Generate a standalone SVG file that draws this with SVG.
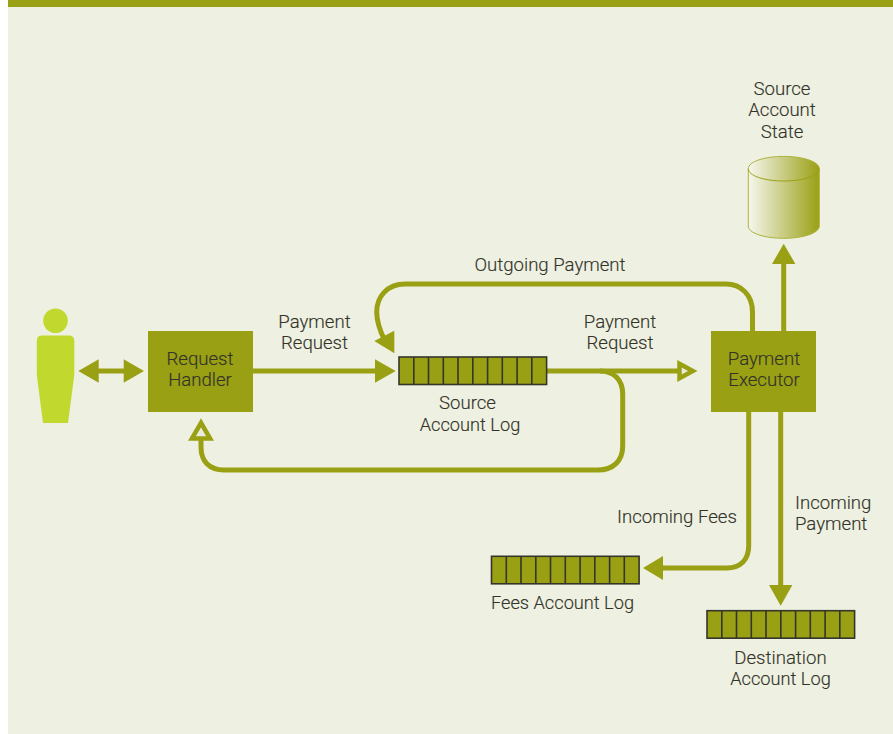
<svg xmlns="http://www.w3.org/2000/svg" width="893" height="734" viewBox="0 0 893 734">
<style>
text{font-family:"Roboto","Liberation Sans",sans-serif;font-size:18.6px;fill:#33332a;font-weight:300;stroke:#33332a;stroke-width:.15}
.m{text-anchor:middle}
.s{font-size:18.2px}
.box{fill:#9aa014}
.line{fill:none;stroke:#9aa014;stroke-width:5}
.head{fill:#9aa014}
.hollow{fill:#e9ebdc;stroke:#9aa014;stroke-width:4.5}
.cell{fill:#9aa014;stroke:#35352a;stroke-width:1.6}
.div{fill:none;stroke:#35352a;stroke-width:1.6}
</style>
<defs>
<linearGradient id="cyl" x1="0" y1="0" x2="1" y2="0"><stop offset="0" stop-color="#f6f7ee"/><stop offset="1" stop-color="#9aa014"/></linearGradient>
<g id="cells"><rect class="cell" x="0" y="0" width="147.6" height="27.5"/><path class="div" d="M14.8 0v27.5M29.5 0v27.5M44.3 0v27.5M59 0v27.5M73.8 0v27.5M88.6 0v27.5M103.3 0v27.5M118.1 0v27.5M132.8 0v27.5"/></g>
</defs>
<rect x="0" y="0" width="893" height="734" fill="#ffffff"/>
<rect x="8" y="0" width="885" height="734" fill="#eef1e1"/>
<rect x="8" y="0" width="885" height="7" fill="#9aa014"/>
<g id="connectors">
<path class="line" d="M95 371H127"/>
<path class="head" d="M78.3 371L98.7 359.3V382.7ZM144 371L123.7 359.3V382.7Z"/>
<path class="line" d="M253 371H377"/>
<path class="head" d="M395.7 371L375 359.3V382.7Z"/>
<path class="line" d="M752.5 331V312C752.5 295 741 284 726 284H405C387 284 376.7 297 376.7 312C376.7 322 380 331 385 341"/>
<path class="head" d="M394.3 353.3L374.3 341L394.3 330.7Z"/>
<path class="line" d="M547 371H680"/>
<path class="hollow" d="M692.800 371L679.500 363.700V378.300Z"/>
<path class="line" d="M600 371C614 371 622.7 380 622.7 394V446C622.7 461 613 470 598 470H224C209 470 201 461 201 447V440"/>
<path class="hollow" d="M201 422.800L191.900 438.500H210.100Z"/>
<path class="line" d="M783.7 331V262"/>
<path class="head" d="M783.7 243.7L772 264H795.4Z"/>
<path class="line" d="M748.7 412V546C748.7 560 740 568 727 568H661"/>
<path class="head" d="M643 568L663 556V580Z"/>
<path class="line" d="M780.7 412V587"/>
<path class="head" d="M780.7 605.7L769 585H792.4Z"/>
</g>
<g id="user">
<circle cx="55.5" cy="320.8" r="12.3" fill="#c1d82f"/>
<path d="M42 335.5H69Q74.3 335.5 74.3 341V375L68 423H43L36.8 375V341Q36.8 335.5 42 335.5Z" fill="#c1d82f"/>
</g>
<g id="request-handler">
<rect class="box" x="148" y="331" width="105" height="81"/>
<text class="m" x="200" y="365">Request</text>
<text class="m" x="200" y="386">Handler</text>
</g>
<g id="source-log">
<use href="#cells" x="399" y="357"/>
<text class="m" x="467.500" y="409">Source</text>
<text class="m s" x="470" y="431">Account Log</text>
</g>
<g id="payment-executor">
<rect class="box" x="711" y="331" width="105" height="81"/>
<text class="m" x="764" y="365">Payment</text>
<text class="m" x="764" y="386">Executor</text>
</g>
<g id="source-state">
<path d="M748.300 168.700V226C748.300 233 764 238.300 783.800 238.300S819.300 233 819.300 226V168.700C819.300 161.700 803.500 156.400 783.800 156.400S748.300 161.700 748.300 168.700Z" fill="url(#cyl)" stroke="#aab23a" stroke-width="1"/>
<path d="M748.300 168.700C748.300 175.700 764 181 783.800 181S819.300 175.700 819.300 168.700" fill="none" stroke="#9aa014" stroke-width="1"/>
<text class="m" x="782" y="95">Source</text>
<text class="m" x="782" y="116">Account</text>
<text class="m" x="782" y="138">State</text>
</g>
<g id="fees-log">
<use href="#cells" x="491.500" y="556.300"/>
<text class="s" x="491" y="609">Fees Account Log</text>
</g>
<g id="destination-log">
<use href="#cells" x="707" y="610.700"/>
<text class="m" x="780.500" y="664">Destination</text>
<text class="m s" x="780.500" y="685">Account Log</text>
</g>
<g id="labels">
<text class="m" x="314.500" y="328">Payment</text>
<text class="m" x="314.500" y="349">Request</text>
<text class="m" x="620" y="328">Payment</text>
<text class="m" x="620" y="349">Request</text>
<text class="m" x="550" y="271">Outgoing Payment</text>
<text x="617" y="523">Incoming Fees</text>
<text x="795" y="509">Incoming</text>
<text x="795" y="530">Payment</text>
</g>
</svg>
